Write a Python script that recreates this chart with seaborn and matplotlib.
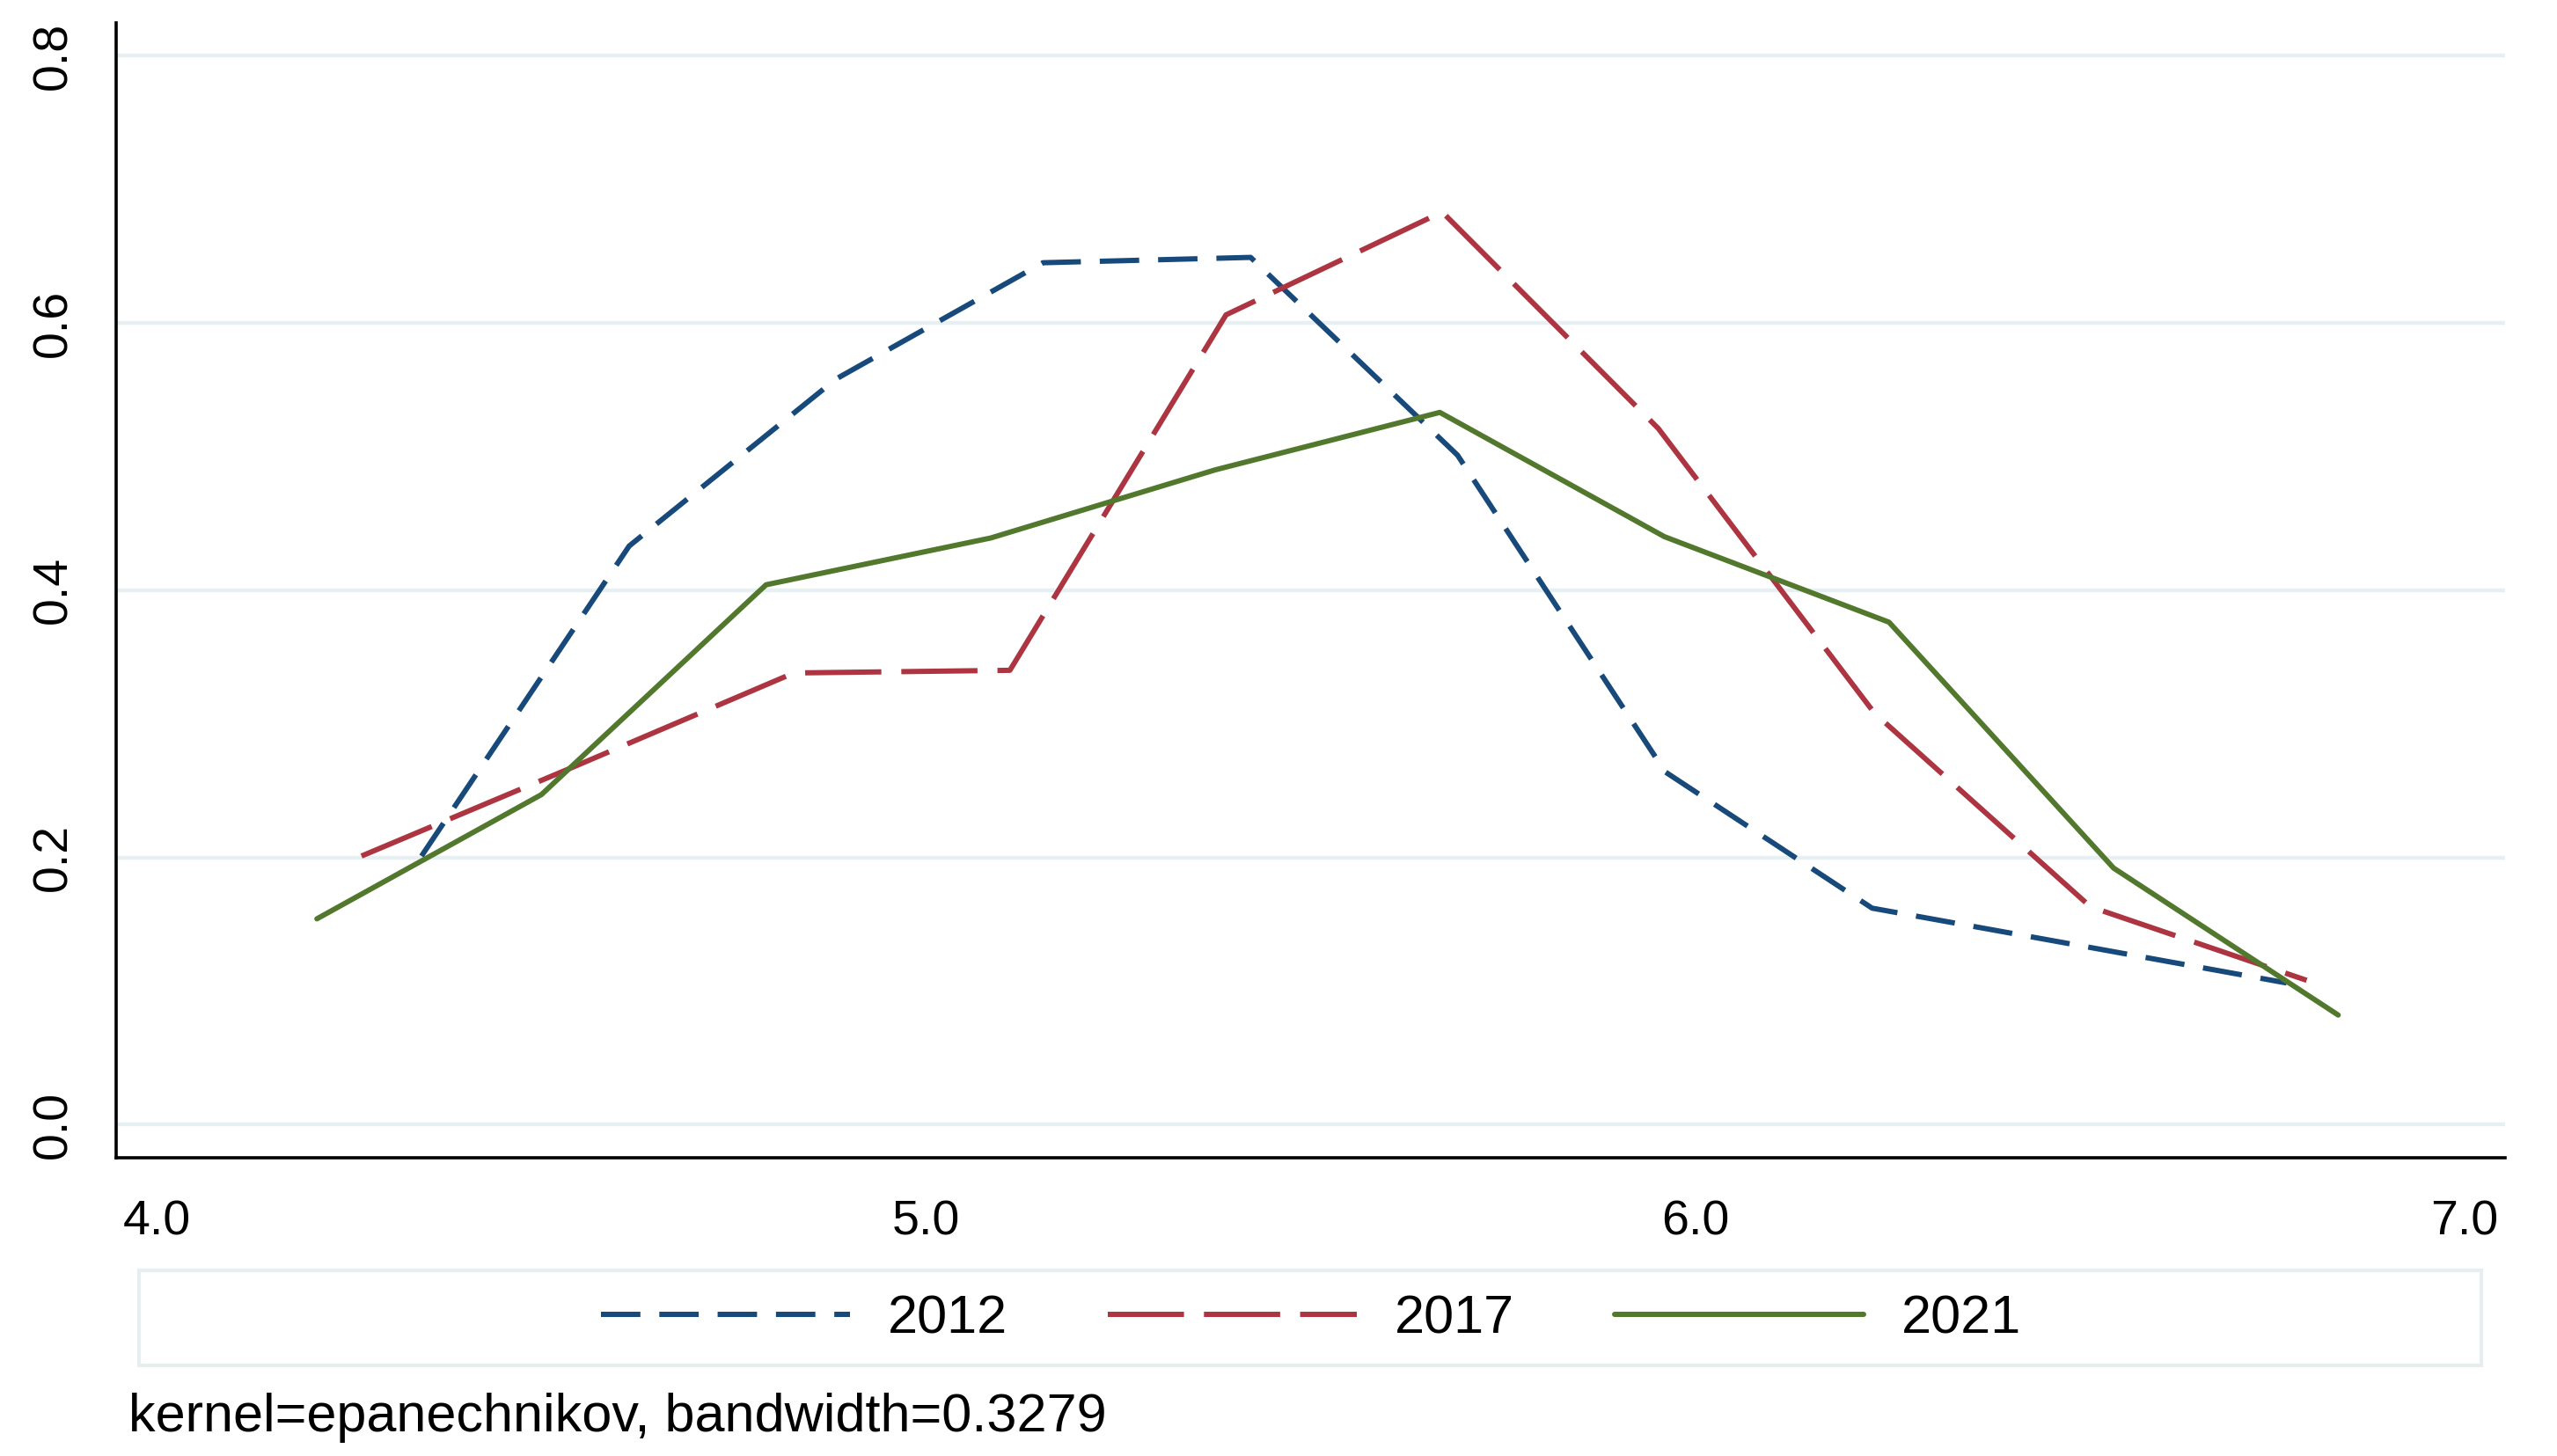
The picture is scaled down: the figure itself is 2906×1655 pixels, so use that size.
import numpy as np
import pandas as pd
import matplotlib
matplotlib.use("Agg")
import matplotlib.pyplot as plt
import seaborn as sns
from matplotlib.patches import Rectangle
from matplotlib.ticker import FormatStrFormatter

# valeurs (densites kernel par annee)
years = ["2012", "2017", "2021"]

x_2012 = [4.344, 4.614, 4.883, 5.152, 5.422, 5.691, 5.961, 6.230, 6.500, 6.769]
y_2012 = [0.201, 0.433, 0.558, 0.645, 0.649, 0.501, 0.264, 0.162, 0.134, 0.106]

x_2017 = [4.266, 4.547, 4.828, 5.109, 5.390, 5.671, 5.952, 6.233, 6.514, 6.795]
y_2017 = [0.201, 0.269, 0.338, 0.340, 0.606, 0.683, 0.521, 0.308, 0.163, 0.108]

x_2021 = [4.208, 4.500, 4.792, 5.084, 5.376, 5.668, 5.960, 6.252, 6.544, 6.836]
y_2021 = [0.154, 0.247, 0.404, 0.439, 0.490, 0.533, 0.440, 0.376, 0.192, 0.082]

x_ticks = [4.0, 5.0, 6.0, 7.0]
y_ticks = [0.0, 0.2, 0.4, 0.6, 0.8]
note = "kernel=epanechnikov, bandwidth=0.3279"

df = pd.concat([
    pd.DataFrame({"x": x_2012, "densite": y_2012, "annee": "2012"}),
    pd.DataFrame({"x": x_2017, "densite": y_2017, "annee": "2017"}),
    pd.DataFrame({"x": x_2021, "densite": y_2021, "annee": "2021"}),
], ignore_index=True)

couleurs = {"2012": "#17497A", "2017": "#AC3541", "2021": "#52782D"}
tirets = {"2012": (7.5, 3.6), "2017": (14.5, 3.8), "2021": ""}

sns.set_theme(style="white")
plt.rcParams["font.family"] = ["Liberation Sans", "DejaVu Sans"]
plt.rcParams["text.color"] = "black"

W, H = 2906, 1655
fig = plt.figure(figsize=(W / 200, H / 200), dpi=200)
ax = fig.add_axes([132 / W, 1 - 1316 / H, (2847 - 132) / W, (1316 - 26) / H])

sns.lineplot(data=df, x="x", y="densite", hue="annee", style="annee",
             palette=couleurs, dashes=tirets, estimator=None, sort=False,
             linewidth=2.15, legend=False, ax=ax)

ax.set_xlim(3.947, 7.053)
ax.set_ylim(-0.0248, 0.8245)
ax.set_xticks(x_ticks)
ax.set_yticks(y_ticks)
ax.xaxis.set_major_formatter(FormatStrFormatter("%.1f"))
ax.yaxis.set_major_formatter(FormatStrFormatter("%.1f"))
ax.set_xlabel("")
ax.set_ylabel("")

ax.yaxis.grid(True, color="#E6EFF2", linewidth=1.6)
ax.xaxis.grid(False)
ax.set_axisbelow(True)
for s in ["top", "right"]:
    ax.spines[s].set_visible(False)
for s in ["left", "bottom"]:
    ax.spines[s].set_color("black")
    ax.spines[s].set_linewidth(1.3)

ax.tick_params(axis="both", direction="out", length=10, width=1.0,
               color="black", labelsize=20, labelcolor="black")
ax.tick_params(axis="x", pad=7)
ax.tick_params(axis="y", pad=6, labelrotation=90)
for lab in ax.get_yticklabels():
    lab.set_va("center")

# legende dans un cadre large sous le graphique
fig.add_artist(Rectangle((158 / W, 1 - 1552 / H), (2820 - 158) / W, (1552 - 1444) / H,
                         transform=fig.transFigure, fill=False,
                         edgecolor="#E6EEF0", linewidth=1.5))
handles = ax.get_lines()[:3]
fig.legend(handles, years, loc="center", bbox_to_anchor=(1490 / W, 1 - 1500 / H),
           ncol=3, frameon=False, fontsize=22, handlelength=4.63,
           handletextpad=0.7, columnspacing=1.87)

fig.text(146 / W, 1 - 1612 / H, note, ha="left", va="center", fontsize=22)

fig.savefig("out.png", dpi=200, facecolor="white")
